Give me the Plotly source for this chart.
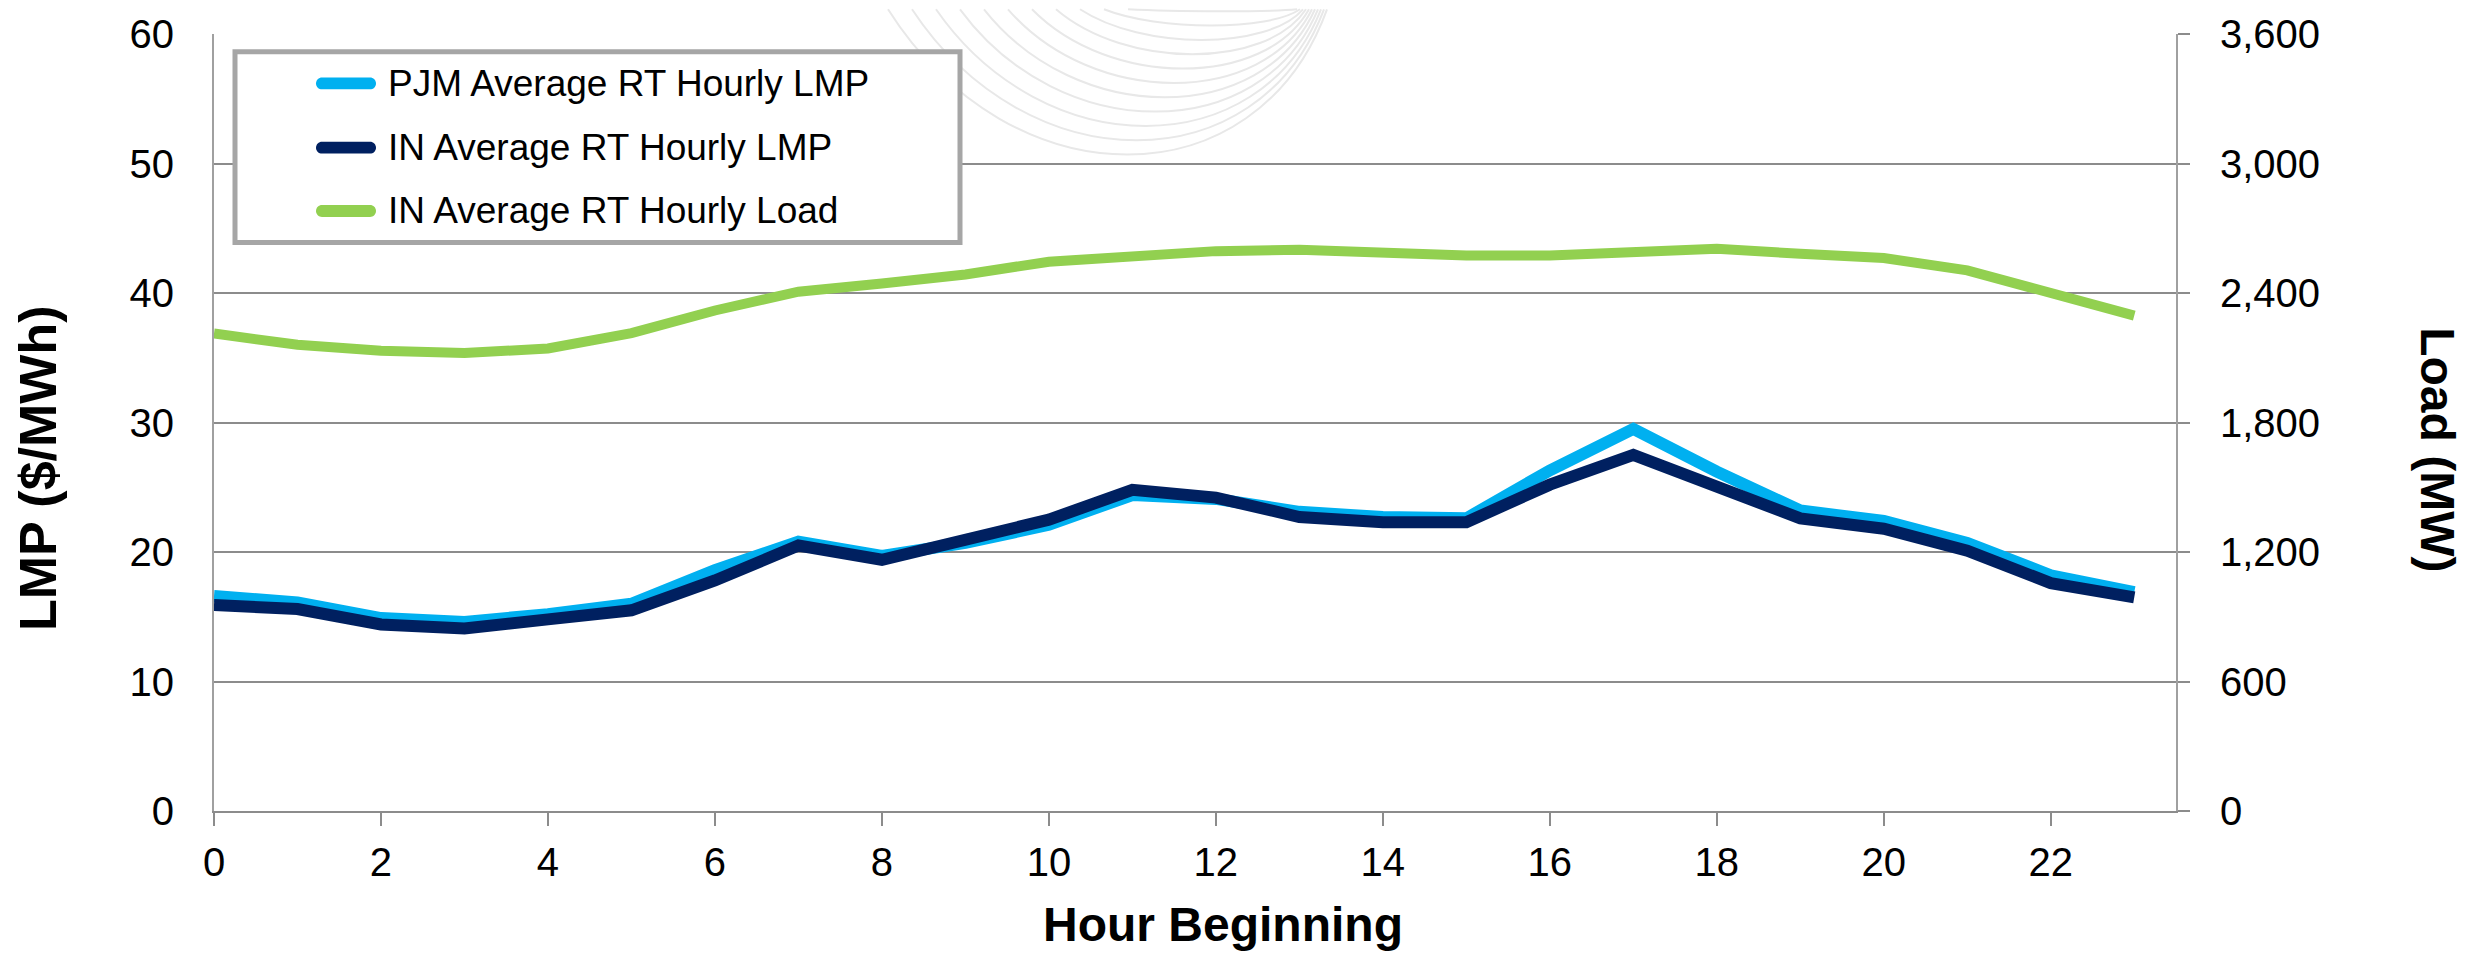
import plotly.graph_objects as go

# Hourly averages by hour beginning
hours = list(range(24))
pjm_lmp = [16.6, 16.1, 14.9, 14.6, 15.2, 16.0, 18.6, 20.8, 19.7, 20.7, 22.1, 24.4,
           24.1, 23.1, 22.7, 22.6, 26.3, 29.5, 26.2, 23.2, 22.4, 20.7, 18.2, 16.9]
in_lmp = [15.9, 15.6, 14.4, 14.1, 14.8, 15.5, 17.8, 20.5, 19.4, 20.9, 22.5, 24.8,
          24.2, 22.7, 22.3, 22.3, 25.2, 27.5, 25.1, 22.6, 21.8, 20.1, 17.6, 16.5]
in_load = [2212, 2160, 2133, 2122, 2143, 2214, 2319, 2406, 2444, 2486, 2545, 2571,
           2594, 2600, 2588, 2574, 2574, 2590, 2605, 2582, 2562, 2505, 2400, 2295]

series_names = ["PJM Average RT Hourly LMP", "IN Average RT Hourly LMP",
                "IN Average RT Hourly Load"]
series_colors = ["#00B0F0", "#002060", "#92D050"]

W, H = 2470, 955
L, R, T, B = 214, 294, 25, 144
PW, PH = W - L - R, H - T - B
FONT = "Arial, Liberation Sans, sans-serif"
GRID = "#8C8C8C"


def px(x):
    return (x - L) / PW


def py(y):
    return (H - B - y) / PH


fig = go.Figure()
fig.add_trace(go.Scatter(x=hours, y=pjm_lmp, mode="lines", name=series_names[0],
                         line=dict(color=series_colors[0], width=12), yaxis="y"))
fig.add_trace(go.Scatter(x=hours, y=in_lmp, mode="lines", name=series_names[1],
                         line=dict(color=series_colors[1], width=12), yaxis="y"))
fig.add_trace(go.Scatter(x=hours, y=in_load, mode="lines", name=series_names[2],
                         line=dict(color=series_colors[2], width=10), yaxis="y2"))

shapes = []
annotations = []

# faint decorative arc bundle near the top
for k in range(11):
    xl = 888 + 24 * k
    xr = 1327 - 3 * k
    bottom = 147 - 14.5 * k
    h = bottom / 0.75
    span = xr - xl
    c1x, c2x = xl + 0.28 * span, xl + 0.84 * span
    path = (f"M {px(xl)},{py(0)} C {px(c1x)},{py(h)} {px(c2x)},{py(h)} "
            f"{px(xr)},{py(0)}")
    shapes.append(dict(type="path", xref="paper", yref="paper", path=path,
                       line=dict(color="#E8E8E8", width=2), layer="below"))

# legend box
shapes.append(dict(type="rect", xref="paper", yref="paper",
                   x0=px(235), x1=px(960), y0=py(43), y1=py(236),
                   line=dict(color="#A6A6A6", width=5), fillcolor="white",
                   layer="above"))
row_y = [75, 140, 204]
for name, color, yc in zip(series_names, series_colors, row_y):
    r = 6
    x0, x1 = 316 + r, 376 - r
    k = 0.55 * r
    path = (f"M {px(x0)},{py(yc - r)} L {px(x1)},{py(yc - r)} "
            f"C {px(x1 + k)},{py(yc - r)} {px(x1 + r)},{py(yc - k)} {px(x1 + r)},{py(yc)} "
            f"C {px(x1 + r)},{py(yc + k)} {px(x1 + k)},{py(yc + r)} {px(x1)},{py(yc + r)} "
            f"L {px(x0)},{py(yc + r)} "
            f"C {px(x0 - k)},{py(yc + r)} {px(x0 - r)},{py(yc + k)} {px(x0 - r)},{py(yc)} "
            f"C {px(x0 - r)},{py(yc - k)} {px(x0 - k)},{py(yc - r)} {px(x0)},{py(yc - r)} Z")
    shapes.append(dict(type="path", xref="paper", yref="paper", path=path,
                       fillcolor=color, line=dict(width=0), layer="above"))
    annotations.append(dict(xref="paper", yref="paper", x=px(386), y=py(yc),
                            xanchor="left", yanchor="middle", showarrow=False,
                            text=name, font=dict(family=FONT, size=37, color="black")))

# axis titles
annotations.append(dict(xref="paper", yref="paper", x=px(38), y=py(465),
                        xanchor="center", yanchor="middle", showarrow=False,
                        text="<b>LMP ($/MWh)</b>", textangle=-90,
                        font=dict(family=FONT, size=52, color="black")))
annotations.append(dict(xref="paper", yref="paper", x=px(2438), y=py(445),
                        xanchor="center", yanchor="middle", showarrow=False,
                        text="<b>Load (MW)</b>", textangle=90,
                        font=dict(family=FONT, size=48, color="black")))
annotations.append(dict(xref="paper", yref="paper", x=px(1223), y=py(926),
                        xanchor="center", yanchor="middle", showarrow=False,
                        text="<b>Hour Beginning</b>",
                        font=dict(family=FONT, size=48, color="black")))

tick_font = dict(family=FONT, size=40, color="black")

fig.update_layout(
    width=W, height=H, autosize=False,
    margin=dict(l=L, r=R, t=T, b=B, pad=0),
    paper_bgcolor="white", plot_bgcolor="white",
    showlegend=False,
    shapes=shapes, annotations=annotations,
    xaxis=dict(range=[0, 23.5], tick0=0, dtick=2, showgrid=False, zeroline=False,
               showline=True, linecolor=GRID, linewidth=2,
               ticks="outside", ticklen=13, tickwidth=2, tickcolor=GRID,
               tickfont=tick_font, ticklabelstandoff=2),
    yaxis=dict(range=[0, 60], tick0=0, dtick=10, showgrid=True, gridcolor=GRID,
               gridwidth=2, zeroline=False, showline=True, linecolor="#A0A0A0",
               linewidth=2, ticks="", tickfont=tick_font, ticklabelstandoff=30),
    yaxis2=dict(range=[0, 3600], tick0=0, dtick=600, overlaying="y", side="right",
                showgrid=False, zeroline=False, showline=True, linecolor="#A0A0A0",
                linewidth=2, ticks="outside", ticklen=12, tickwidth=2,
                tickcolor=GRID, tickformat=",", tickfont=tick_font,
                ticklabelstandoff=22),
)

fig.write_html("out.html")
